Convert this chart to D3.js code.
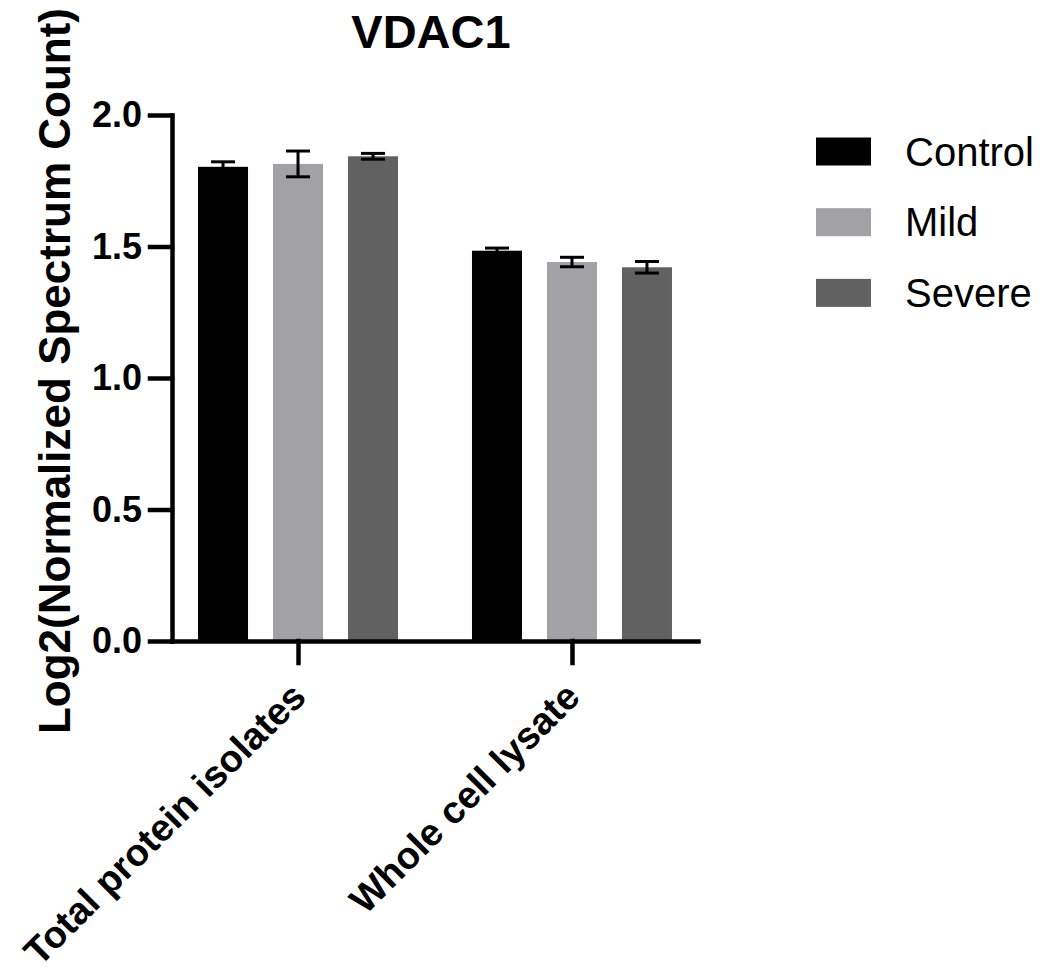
<!DOCTYPE html>
<html>
<head>
<meta charset="utf-8">
<script src="https://cdn.jsdelivr.net/npm/d3@7"></script>
<style>
  body { margin: 0; background: #fff; }
  text { font-family: "Liberation Sans", Arial, sans-serif; }
</style>
</head>
<body>
<div id="vis"></div>
<script>
// Data
const categories = ["Total protein isolates", "Whole cell lysate"];
const groups = ["Control", "Mild", "Severe"];
const controlMeans = [1.803, 1.484];
const controlErrors = [0.019, 0.010];
const mildMeans = [1.814, 1.441];
const mildErrors = [0.049, 0.018];
const severeMeans = [1.843, 1.421];
const severeErrors = [0.011, 0.022];
const yTicks = [0, 0.5, 1.0, 1.5, 2.0];

const colors = { Control: "#000000", Mild: "#a2a1a6", Severe: "#616161" };

const seriesMeans = { Control: controlMeans, Mild: mildMeans, Severe: severeMeans };
const seriesErrors = { Control: controlErrors, Mild: mildErrors, Severe: severeErrors };

const rows = [];
categories.forEach((c, i) => {
  groups.forEach(g => {
    rows.push({ category: c, group: g, value: seriesMeans[g][i], err: seriesErrors[g][i] });
  });
});

// Dimensions
const width = 1043;
const height = 972;
const axisLeftX = 172;
const axisRightX = 698;
const y0 = 641;
const yTop = 115;

const svg = d3.select("#vis")
  .append("svg")
  .attr("width", width)
  .attr("height", height);

// Scales
const x = d3.scalePoint()
  .domain(categories)
  .range([axisLeftX, axisRightX])
  .padding(0.46);

const xInner = d3.scaleBand()
  .domain(groups)
  .range([-112.5, 112.5])
  .paddingInner(1 / 3)
  .paddingOuter(1 / 6);

const y = d3.scaleLinear()
  .domain([0, 2])
  .range([y0, yTop]);

// Bars
svg.append("g")
  .selectAll("rect")
  .data(rows)
  .join("rect")
  .attr("x", d => x(d.category) + xInner(d.group))
  .attr("y", d => y(d.value))
  .attr("width", xInner.bandwidth())
  .attr("height", d => y(0) - y(d.value))
  .attr("fill", d => colors[d.group]);

// Error bars
const capW = 24;
const errG = svg.append("g")
  .attr("stroke", "#000")
  .attr("stroke-width", 3);

rows.forEach(d => {
  const cx = x(d.category) + xInner(d.group) + xInner.bandwidth() / 2;
  errG.append("line")
    .attr("x1", cx).attr("x2", cx)
    .attr("y1", y(d.value - d.err)).attr("y2", y(d.value + d.err));
  [d.value - d.err, d.value + d.err].forEach(v => {
    errG.append("line")
      .attr("x1", cx - capW / 2).attr("x2", cx + capW / 2)
      .attr("y1", y(v)).attr("y2", y(v));
  });
});

// Y axis
const yAxis = svg.append("g")
  .attr("transform", `translate(${axisLeftX},0)`)
  .call(d3.axisLeft(y)
    .tickValues(yTicks)
    .tickFormat(d3.format(".1f"))
    .tickSize(22)
    .tickSizeOuter(0)
    .tickPadding(8));

// X axis
const xAxis = svg.append("g")
  .attr("transform", `translate(0,${y0})`)
  .call(d3.axisBottom(x)
    .tickSize(22)
    .tickSizeOuter(0)
    .tickFormat(""));

[yAxis, xAxis].forEach(a => {
  a.select(".domain")
    .attr("stroke", "#000")
    .attr("stroke-width", 4.5)
    .attr("stroke-linecap", "square");
  a.selectAll(".tick line")
    .attr("stroke", "#000")
    .attr("stroke-width", 4.5)
    .attr("stroke-linecap", "square");
});

yAxis.selectAll(".tick text")
  .attr("fill", "#000")
  .attr("font-size", "36px")
  .attr("font-weight", "bold")
  .attr("font-family", "Liberation Sans, Arial, sans-serif");

// Category labels, rotated
svg.append("g")
  .selectAll("text")
  .data(categories)
  .join("text")
  .attr("transform", d => `translate(${x(d) + 10},${y0 + 58}) rotate(-45)`)
  .attr("text-anchor", "end")
  .attr("font-size", "38px")
  .attr("font-weight", "bold")
  .attr("fill", "#000")
  .text(d => d);

// Y axis label
svg.append("text")
  .attr("transform", "rotate(-90)")
  .attr("x", -371)
  .attr("y", 70)
  .attr("text-anchor", "middle")
  .attr("font-size", "44px")
  .attr("font-weight", "bold")
  .attr("fill", "#000")
  .text("Log2(Normalized Spectrum Count)");

// Title
svg.append("text")
  .attr("x", 431)
  .attr("y", 48)
  .attr("text-anchor", "middle")
  .attr("font-size", "47px")
  .attr("font-weight", "bold")
  .attr("fill", "#000")
  .text("VDAC1");

// Legend
const legend = svg.append("g")
  .selectAll("g")
  .data(groups)
  .join("g")
  .attr("transform", (d, i) => `translate(816,${151.5 + i * 70.7})`);

legend.append("rect")
  .attr("x", 0)
  .attr("y", -14)
  .attr("width", 55)
  .attr("height", 28)
  .attr("fill", d => colors[d]);

legend.append("text")
  .attr("x", 89)
  .attr("y", 14)
  .attr("font-size", "40px")
  .attr("fill", "#000")
  .text(d => d);
</script>
</body>
</html>
